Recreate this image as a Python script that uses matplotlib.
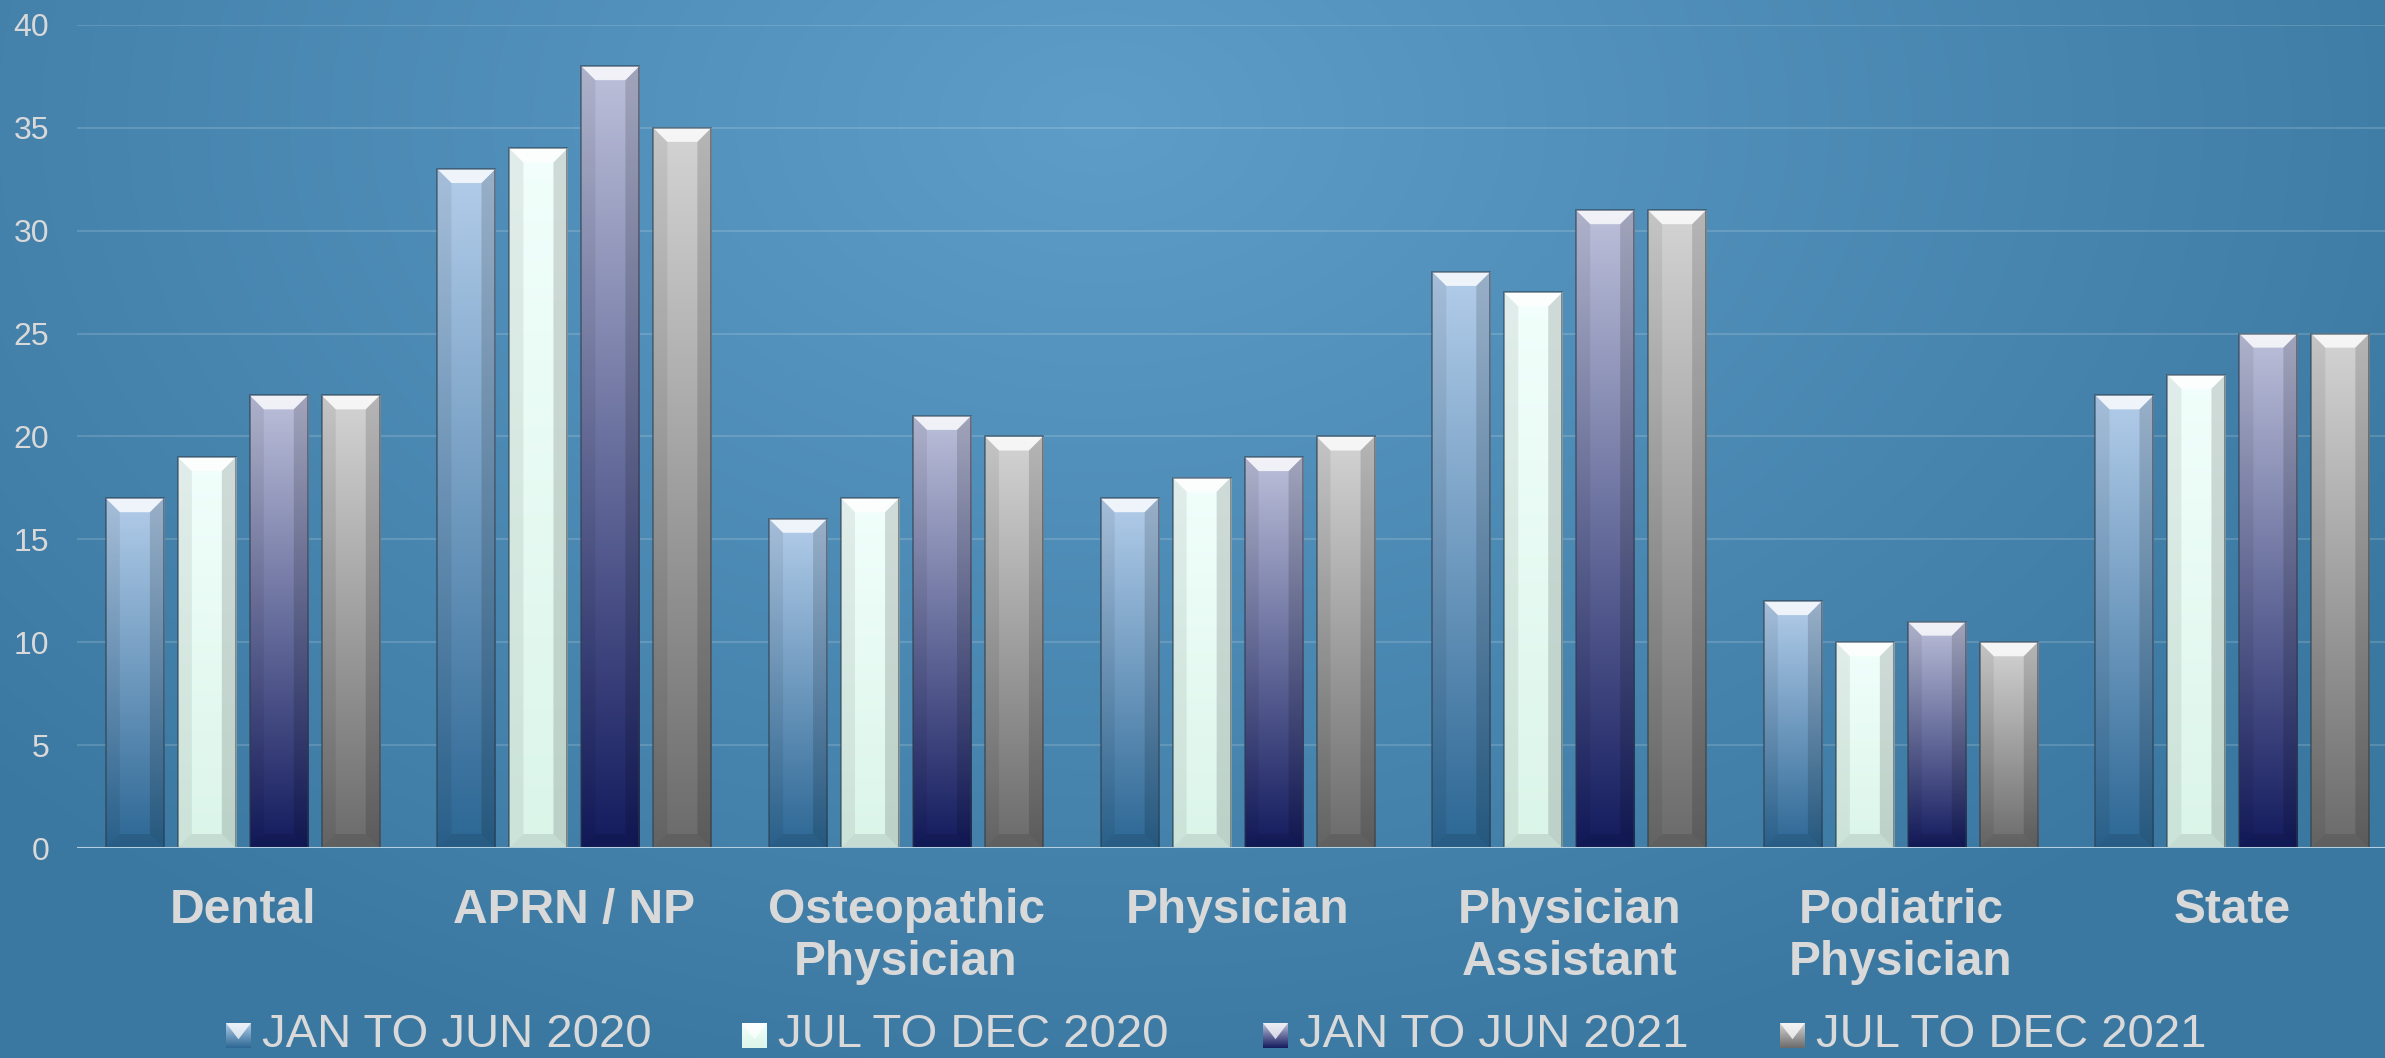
import numpy as np
import matplotlib
matplotlib.use("Agg")
import matplotlib.pyplot as plt
from matplotlib.colors import to_rgb
from matplotlib.patches import Polygon

# Data
categories = ["Dental", "APRN / NP", "Osteopathic\nPhysician", "Physician",
              "Physician\nAssistant", "Podiatric\nPhysician", "State"]
series_names = ["JAN TO JUN 2020", "JUL TO DEC 2020", "JAN TO JUN 2021", "JUL TO DEC 2021"]
jan_jun_2020 = [17, 33, 16, 17, 28, 12, 22]
jul_dec_2020 = [19, 34, 17, 18, 27, 10, 23]
jan_jun_2021 = [22, 38, 21, 19, 31, 11, 25]
jul_dec_2021 = [22, 35, 20, 20, 31, 10, 25]
yticks = [0, 5, 10, 15, 20, 25, 30, 35, 40]

# gradient colours per series (top, bottom)
grad_colors = [("#b3cdea", "#2c6794"),
               ("#f2fffc", "#dbf5e9"),
               ("#bcc0da", "#131b5e"),
               ("#d4d4d4", "#6b6b6b")]

plt.rcParams['font.family'] = ['Liberation Sans', 'DejaVu Sans']
txt_color = "#d9d9d9"

W, H = 2385, 1058
fig = plt.figure(figsize=(W / 100, H / 100), dpi=100)

# background: radial gradient, lighter near the top middle
bg = fig.add_axes([0, 0, 1, 1], zorder=0)
yy, xx = np.mgrid[0:H:2, 0:W:2]
d = np.sqrt(((xx - 1100) / 1500.0) ** 2 + ((yy - 120) / 1000.0) ** 2)
d = np.clip(d, 0, 1)[..., None]
c_in = np.array(to_rgb("#5d9dc8"))
c_out = np.array(to_rgb("#3b78a1"))
bg.imshow(c_in * (1 - d) + c_out * d, extent=(0, W, H, 0), aspect='auto')
bg.axis('off')

ax = fig.add_axes([77 / W, 210 / H, 2308 / W, 823 / H], zorder=1)
ax.set_facecolor('none')
ax.set_xlim(-0.5, -0.5 + 2308 / 331.6)
ax.set_ylim(0, 40)

def gradient(top, bottom, n=256):
    t = np.linspace(0, 1, n)[:, None, None]
    return np.array(to_rgb(bottom)) * (1 - t) + np.array(to_rgb(top)) * t

x = np.arange(len(categories))
width = 0.175
pitch = 0.217
all_series = [jan_jun_2020, jul_dec_2020, jan_jun_2021, jul_dec_2021]
dx = 14 / 331.6   # bevel size in data units (x)
dy = 14 / 20.57   # bevel size in data units (y)
hi = np.linspace(0, 1, 64)[:, None, None] * np.ones((1, 1, 3))
for i, vals in enumerate(all_series):
    offs = (i - 1.5) * pitch
    bars = ax.bar(x + offs, vals, width, color='none', edgecolor='none', zorder=2)
    img = gradient(*grad_colors[i])
    for b in bars:
        x0, w, h = b.get_x(), b.get_width(), b.get_height()
        im = ax.imshow(img, extent=(x0, x0 + w, 0, h), origin='lower',
                       aspect='auto', zorder=2)
        im.set_clip_path(b)
        # bevel: top highlight, dark sides and bottom
        top = Polygon([(x0, h), (x0 + w, h), (x0 + w - dx, h - dy), (x0 + dx, h - dy)],
                      closed=True, facecolor='white', alpha=0.8, edgecolor='none', zorder=3)
        ax.add_patch(top)
        ax.add_patch(Polygon([(x0, 0), (x0, h), (x0 + dx, h - dy), (x0 + dx, dy)],
                             closed=True, facecolor='black', alpha=0.07, edgecolor='none', zorder=3))
        ax.add_patch(Polygon([(x0 + w, 0), (x0 + w, h), (x0 + w - dx, h - dy), (x0 + w - dx, dy)],
                             closed=True, facecolor='black', alpha=0.14, edgecolor='none', zorder=3))
        ax.add_patch(Polygon([(x0, 0), (x0 + w, 0), (x0 + w - dx, dy), (x0 + dx, dy)],
                             closed=True, facecolor='black', alpha=0.10, edgecolor='none', zorder=3))
        ax.add_patch(Polygon([(x0, 0), (x0, h), (x0 + w, h), (x0 + w, 0)], closed=True,
                             facecolor='none', edgecolor='#2a3a4a', alpha=0.6, lw=1.2, zorder=4))

# grid and axis styling
ax.set_yticks(yticks)
ax.yaxis.grid(True, color='white', alpha=0.15, lw=1.5)
ax.set_axisbelow(True)
ax.axhline(0, color='#b4cfe0', lw=2.2, zorder=5)
for s in ax.spines.values():
    s.set_visible(False)
ax.tick_params(axis='y', length=0, pad=20, labelsize=23, labelcolor=txt_color)
ax.set_xticks(x)
ax.set_xticklabels(categories, fontsize=34.5, fontweight='bold', color=txt_color,
                   linespacing=1.2)
ax.tick_params(axis='x', length=0, pad=29)

# legend drawn by hand (gradient markers)
leg_x = [226, 742, 1263, 1780]
for i, name in enumerate(series_names):
    max_ = fig.add_axes([leg_x[i] / W, 10 / H, 25 / W, 25 / H], zorder=2)
    max_.imshow(gradient(*grad_colors[i]), extent=(0, 1, 0, 1), origin='lower', aspect='auto')
    max_.add_patch(Polygon([(0, 1), (1, 1), (0.5, 0.35)], closed=True,
                           facecolor='white', alpha=0.75, edgecolor='none'))
    max_.set_xlim(0, 1)
    max_.set_ylim(0, 1)
    max_.axis('off')
    fig.text((leg_x[i] + 36) / W, 11 / H, name, fontsize=34, color=txt_color,
             va='baseline', ha='left')

fig.savefig("out.png", dpi=100)
